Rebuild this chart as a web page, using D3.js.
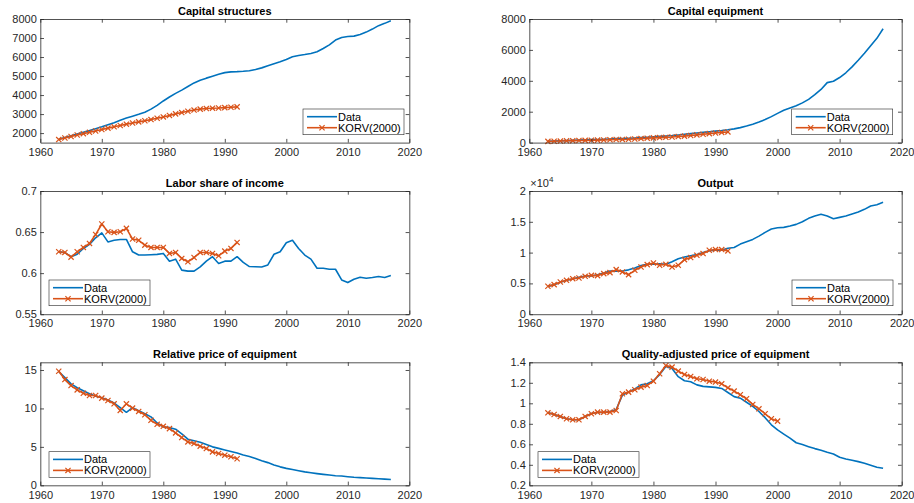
<!DOCTYPE html>
<html>
<head>
<meta charset="utf-8">
<script src="https://cdn.jsdelivr.net/npm/d3@7"></script>
<style>
    body { margin: 0; background: #fff; }
    svg { font-family: "Liberation Sans", Arial, sans-serif; }
</style>
</head>
<body>
<div id="chart"></div>
<script>
// Data
//= ================================
var dataYears = [1963, 1964, 1965, 1966, 1967, 1968, 1969, 1970, 1971, 1972,
    1973, 1974, 1975, 1976, 1977, 1978, 1979, 1980, 1981, 1982,
    1983, 1984, 1985, 1986, 1987, 1988, 1989, 1990, 1991, 1992,
    1993, 1994, 1995, 1996, 1997, 1998, 1999, 2000, 2001, 2002,
    2003, 2004, 2005, 2006, 2007, 2008, 2009, 2010, 2011, 2012,
    2013, 2014, 2015, 2016, 2017];

var korvYears = [1963, 1964, 1965, 1966, 1967, 1968, 1969, 1970, 1971, 1972,
    1973, 1974, 1975, 1976, 1977, 1978, 1979, 1980, 1981, 1982,
    1983, 1984, 1985, 1986, 1987, 1988, 1989, 1990, 1991, 1992];

var korvYearsLong = korvYears.concat([1993, 1994, 1995, 1996, 1997, 1998, 1999, 2000]);

var xTicks = [1960, 1970, 1980, 1990, 2000, 2010, 2020];

// Capital structures
var structData = [1680, 1770, 1860, 1950, 2040, 2130, 2230, 2330, 2440, 2550,
    2670, 2790, 2890, 2990, 3100, 3260, 3460, 3690, 3900, 4090,
    4260, 4450, 4640, 4780, 4890, 4990, 5090, 5180, 5220, 5230,
    5250, 5280, 5340, 5430, 5540, 5650, 5750, 5870, 6010, 6080,
    6130, 6190, 6280, 6450, 6640, 6890, 7030, 7080, 7100, 7190,
    7310, 7470, 7650, 7770, 7910];
var structKorv = [1660, 1740, 1820, 1900, 1970, 2040, 2110, 2190, 2260, 2330,
    2400, 2470, 2530, 2590, 2650, 2710, 2780, 2850, 2930, 3010,
    3080, 3150, 3210, 3260, 3290, 3310, 3320, 3340, 3360, 3380];
var structTicks = [2000, 3000, 4000, 5000, 6000, 7000, 8000];

// Capital equipment
var equipData = [90, 100, 115, 130, 145, 160, 175, 190, 200, 215,
    235, 255, 265, 280, 300, 325, 350, 375, 405, 430,
    455, 495, 540, 580, 620, 660, 700, 740, 780, 830,
    890, 970, 1070, 1190, 1330, 1490, 1680, 1890, 2090, 2240,
    2380, 2570, 2800, 3100, 3440, 3880, 3970, 4210, 4520, 4900,
    5330, 5780, 6270, 6750, 7370];
var equipKorv = [80, 90, 100, 115, 125, 135, 145, 155, 160, 170,
    185, 200, 205, 215, 235, 260, 285, 305, 325, 340,
    360, 390, 420, 460, 500, 540, 580, 620, 660, 690];
var equipTicks = [0, 2000, 4000, 6000, 8000];

// Labor share of income
var laborData = [0.626, 0.625, 0.620, 0.623, 0.630, 0.635, 0.643, 0.649, 0.638, 0.640,
    0.641, 0.641, 0.626, 0.622, 0.622, 0.6224, 0.6228, 0.624, 0.6146, 0.617,
    0.6037, 0.6024, 0.6024, 0.6077, 0.6146, 0.620, 0.6118, 0.6146, 0.6146, 0.620,
    0.613, 0.608, 0.6078, 0.6075, 0.610, 0.623, 0.626, 0.637, 0.640, 0.630,
    0.622, 0.617, 0.606, 0.606, 0.6047, 0.6047, 0.5917, 0.5885, 0.5925, 0.595,
    0.5937, 0.5946, 0.5958, 0.5946, 0.597];
var laborKorv = [0.626, 0.6252, 0.6195, 0.626, 0.6313, 0.6362, 0.647, 0.6598, 0.6504, 0.6496,
    0.6504, 0.6545, 0.6415, 0.640, 0.6341, 0.6313, 0.6313, 0.6313, 0.624, 0.6252,
    0.6179, 0.6138, 0.619, 0.6252, 0.6252, 0.624, 0.6211, 0.6268, 0.6301, 0.6374];
var laborTicks = [0.55, 0.6, 0.65, 0.7];

// Output
var outputData = [4500, 4800, 5200, 5500, 5700, 6000, 6200, 6200, 6400, 6700,
    7000, 7000, 7000, 7200, 7500, 7900, 8100, 8100, 8200, 8100,
    8500, 9000, 9300, 9500, 9700, 10000, 10300, 10400, 10400, 10700,
    10840, 11380, 11760, 12140, 12680, 13280, 13820, 14040, 14090, 14310,
    14580, 15010, 15560, 15930, 16210, 15930, 15500, 15720, 15930, 16260,
    16590, 17020, 17560, 17780, 18160];
var outputKorv = [4530, 4800, 5230, 5500, 5770, 5880, 6150, 6310, 6260, 6590,
    6750, 7240, 6860, 6420, 7130, 7670, 8050, 8320, 7940, 8100,
    7670, 7940, 8860, 9190, 9570, 9840, 10380, 10490, 10490, 10270];
var outputTicks = [0, 5000, 10000, 15000, 20000];

// Relative price of equipment
var relPriceData = [14.8, 14.0, 13.2, 12.7, 12.3, 11.9, 11.6, 11.4, 11.1, 10.7,
    10.1, 9.5, 10.1, 9.7, 9.3, 8.9, 8.1, 7.6, 7.5, 7.3,
    6.7, 6.0, 5.8, 5.6, 5.3, 5.0, 4.8, 4.6, 4.4, 4.2,
    3.95, 3.75, 3.5, 3.2, 2.95, 2.65, 2.4, 2.2, 2.05, 1.9,
    1.75, 1.63, 1.52, 1.42, 1.33, 1.25, 1.2, 1.12, 1.05, 1.0,
    0.95, 0.9, 0.85, 0.8, 0.75];
var relPriceKorv = [14.83, 13.75, 12.97, 12.41, 11.98, 11.68, 11.68, 11.34, 11.03, 10.6,
    9.74, 10.6, 10.04, 9.61, 9.18, 8.45, 7.93, 7.67, 7.37, 6.81,
    6.21, 5.65, 5.43, 5.09, 4.78, 4.35, 4.14, 3.92, 3.71, 3.45];
var relPriceTicks = [0, 5, 10, 15];

// Quality-adjusted price of equipment
var qualPriceData = [0.91, 0.89, 0.87, 0.85, 0.84, 0.84, 0.87, 0.90, 0.91, 0.91,
    0.92, 0.94, 1.08, 1.11, 1.14, 1.18, 1.19, 1.22, 1.28, 1.36,
    1.34, 1.26, 1.22, 1.21, 1.18, 1.165, 1.16, 1.155, 1.145, 1.105,
    1.065, 1.05, 1.01, 0.97, 0.92, 0.86, 0.79, 0.74, 0.70, 0.66,
    0.615, 0.597, 0.577, 0.558, 0.541, 0.522, 0.506, 0.473, 0.457, 0.444,
    0.431, 0.415, 0.395, 0.376, 0.366];
var qualPriceKorv = [0.907, 0.891, 0.872, 0.849, 0.839, 0.839, 0.872, 0.898, 0.914, 0.914,
    0.914, 0.93, 1.093, 1.109, 1.132, 1.158, 1.174, 1.216, 1.288, 1.369,
    1.353, 1.314, 1.281, 1.262, 1.239, 1.232, 1.216, 1.207, 1.19, 1.151,
    1.119, 1.083, 1.044, 0.989, 0.946, 0.898, 0.849, 0.826];
var qualPriceTicks = [0.2, 0.4, 0.6, 0.8, 1, 1.2, 1.4];

// Setup the chart
//= ================================
var svgWidth = 914;
var svgHeight = 503;
var blue = "#0072BD";
var orange = "#D95319";
var axisColor = "#262626";
var tickLen = 3.7;

var svg = d3.select("#chart")
    .append("svg")
    .attr("width", svgWidth)
    .attr("height", svgHeight);

var trimFormat = d3.format("~g");

function drawPanel(p) {
    var g = svg.append("g");

    var x = d3.scaleLinear().domain([1960, 2020]).range([p.left, p.right]);
    var y = d3.scaleLinear().domain(p.yDomain).range([p.bottom, p.top]);

    // lines first, the box sits on top
    var line = d3.line()
        .x((d, i) => x(d.year))
        .y(d => y(d.value));

    var blueRows = p.data.map((v, i) => ({ year: dataYears[i], value: v }));
    var orangeRows = p.korv.map((v, i) => ({ year: p.korvYears[i], value: v }));

    g.append("path")
        .datum(blueRows)
        .attr("d", line)
        .attr("fill", "none")
        .attr("stroke", blue)
        .attr("stroke-width", 1.6)
        .attr("stroke-linejoin", "round");

    g.append("path")
        .datum(orangeRows)
        .attr("d", line)
        .attr("fill", "none")
        .attr("stroke", orange)
        .attr("stroke-width", 1.6)
        .attr("stroke-linejoin", "round");

    g.selectAll(".mark")
        .data(orangeRows)
        .enter()
        .append("path")
        .attr("transform", d => `translate(${x(d.year)}, ${y(d.value)})`)
        .attr("d", "M-2.6,-2.6L2.6,2.6M-2.6,2.6L2.6,-2.6")
        .attr("stroke", orange)
        .attr("stroke-width", 1.2);

    // Axes (box on, ticks inward)
    var fmt = p.tickFormat || trimFormat;

    var bottomAxis = g.append("g")
        .attr("transform", `translate(0, ${p.bottom})`)
        .call(d3.axisBottom(x).tickValues(xTicks).tickSize(-tickLen).tickSizeOuter(0)
            .tickPadding(5.5).tickFormat(d3.format("d")));

    var topAxis = g.append("g")
        .attr("transform", `translate(0, ${p.top})`)
        .call(d3.axisTop(x).tickValues(xTicks).tickSize(-tickLen).tickSizeOuter(0).tickFormat(""));

    var leftAxis = g.append("g")
        .attr("transform", `translate(${p.left}, 0)`)
        .call(d3.axisLeft(y).tickValues(p.yTicks).tickSize(-tickLen).tickSizeOuter(0)
            .tickPadding(3.5).tickFormat(fmt));

    var rightAxis = g.append("g")
        .attr("transform", `translate(${p.right}, 0)`)
        .call(d3.axisRight(y).tickValues(p.yTicks).tickSize(-tickLen).tickSizeOuter(0).tickFormat(""));

    g.selectAll(".domain, .tick line")
        .attr("stroke", axisColor)
        .attr("stroke-width", 0.8);
    g.selectAll(".tick text")
        .attr("fill", axisColor)
        .attr("font-size", "11px")
        .attr("font-family", "Liberation Sans, Arial, sans-serif");

    // Title
    g.append("text")
        .attr("x", (p.left + p.right) / 2)
        .attr("y", p.top - 4.5)
        .attr("text-anchor", "middle")
        .attr("font-size", "11px")
        .attr("font-weight", "bold")
        .attr("fill", "#000")
        .text(p.title);

    // Legend
    var lg = g.append("g")
        .attr("transform", `translate(${p.legendX}, ${p.legendY})`);

    lg.append("rect")
        .attr("width", 101)
        .attr("height", 25.7)
        .attr("fill", "#fff")
        .attr("stroke", axisColor)
        .attr("stroke-width", 0.6);

    lg.append("line")
        .attr("x1", 4).attr("x2", 34)
        .attr("y1", 7.7).attr("y2", 7.7)
        .attr("stroke", blue)
        .attr("stroke-width", 1.6);

    lg.append("line")
        .attr("x1", 4).attr("x2", 34)
        .attr("y1", 18.7).attr("y2", 18.7)
        .attr("stroke", orange)
        .attr("stroke-width", 1.6);

    lg.append("path")
        .attr("transform", "translate(19, 18.7)")
        .attr("d", "M-2.6,-2.6L2.6,2.6M-2.6,2.6L2.6,-2.6")
        .attr("stroke", orange)
        .attr("stroke-width", 1.2);

    lg.selectAll(".lab")
        .data(["Data", "KORV(2000)"])
        .enter()
        .append("text")
        .attr("x", 35)
        .attr("y", (d, i) => 7.7 + i * 11)
        .attr("dy", "0.35em")
        .attr("font-size", "11px")
        .attr("fill", "#000")
        .text(d => d);

    return g;
}

var leftL = 40.3, leftR = 409.3;
var rightL = 529.3, rightR = 901.7;
var row1 = [19, 142.6], row2 = [191, 314.2], row3 = [362.3, 485.3];

drawPanel({
    title: "Capital structures", left: leftL, right: leftR, top: row1[0], bottom: row1[1],
    yDomain: [1500, 8000], yTicks: structTicks, data: structData, korv: structKorv,
    korvYears: korvYears, legendX: 303, legendY: 109
});

drawPanel({
    title: "Capital equipment", left: rightL, right: rightR, top: row1[0], bottom: row1[1],
    yDomain: [0, 8000], yTicks: equipTicks, data: equipData, korv: equipKorv,
    korvYears: korvYears, legendX: 791.7, legendY: 109
});

drawPanel({
    title: "Labor share of income", left: leftL, right: leftR, top: row2[0], bottom: row2[1],
    yDomain: [0.55, 0.7], yTicks: laborTicks, data: laborData, korv: laborKorv,
    korvYears: korvYears, legendX: 49, legendY: 280
});

var outPanel = drawPanel({
    title: "Output", left: rightL, right: rightR, top: row2[0], bottom: row2[1],
    yDomain: [0, 20000], yTicks: outputTicks, data: outputData, korv: outputKorv,
    korvYears: korvYears, legendX: 792, legendY: 280,
    tickFormat: d => trimFormat(d / 10000)
});

// exponent label for the output axis
var expLabel = outPanel.append("text")
    .attr("x", rightL + 1)
    .attr("y", row2[0] - 4)
    .attr("font-size", "11px")
    .attr("fill", axisColor);
expLabel.append("tspan").text("\u00d710");
expLabel.append("tspan")
    .attr("dy", -5)
    .attr("font-size", "8px")
    .text("4");

drawPanel({
    title: "Relative price of equipment", left: leftL, right: leftR, top: row3[0], bottom: row3[1],
    yDomain: [0, 16], yTicks: relPriceTicks, data: relPriceData, korv: relPriceKorv,
    korvYears: korvYears, legendX: 49, legendY: 451.7
});

drawPanel({
    title: "Quality-adjusted price of equipment", left: rightL, right: rightR, top: row3[0], bottom: row3[1],
    yDomain: [0.2, 1.4], yTicks: qualPriceTicks, data: qualPriceData, korv: qualPriceKorv,
    korvYears: korvYearsLong, legendX: 538, legendY: 451.7
});
</script>
</body>
</html>
